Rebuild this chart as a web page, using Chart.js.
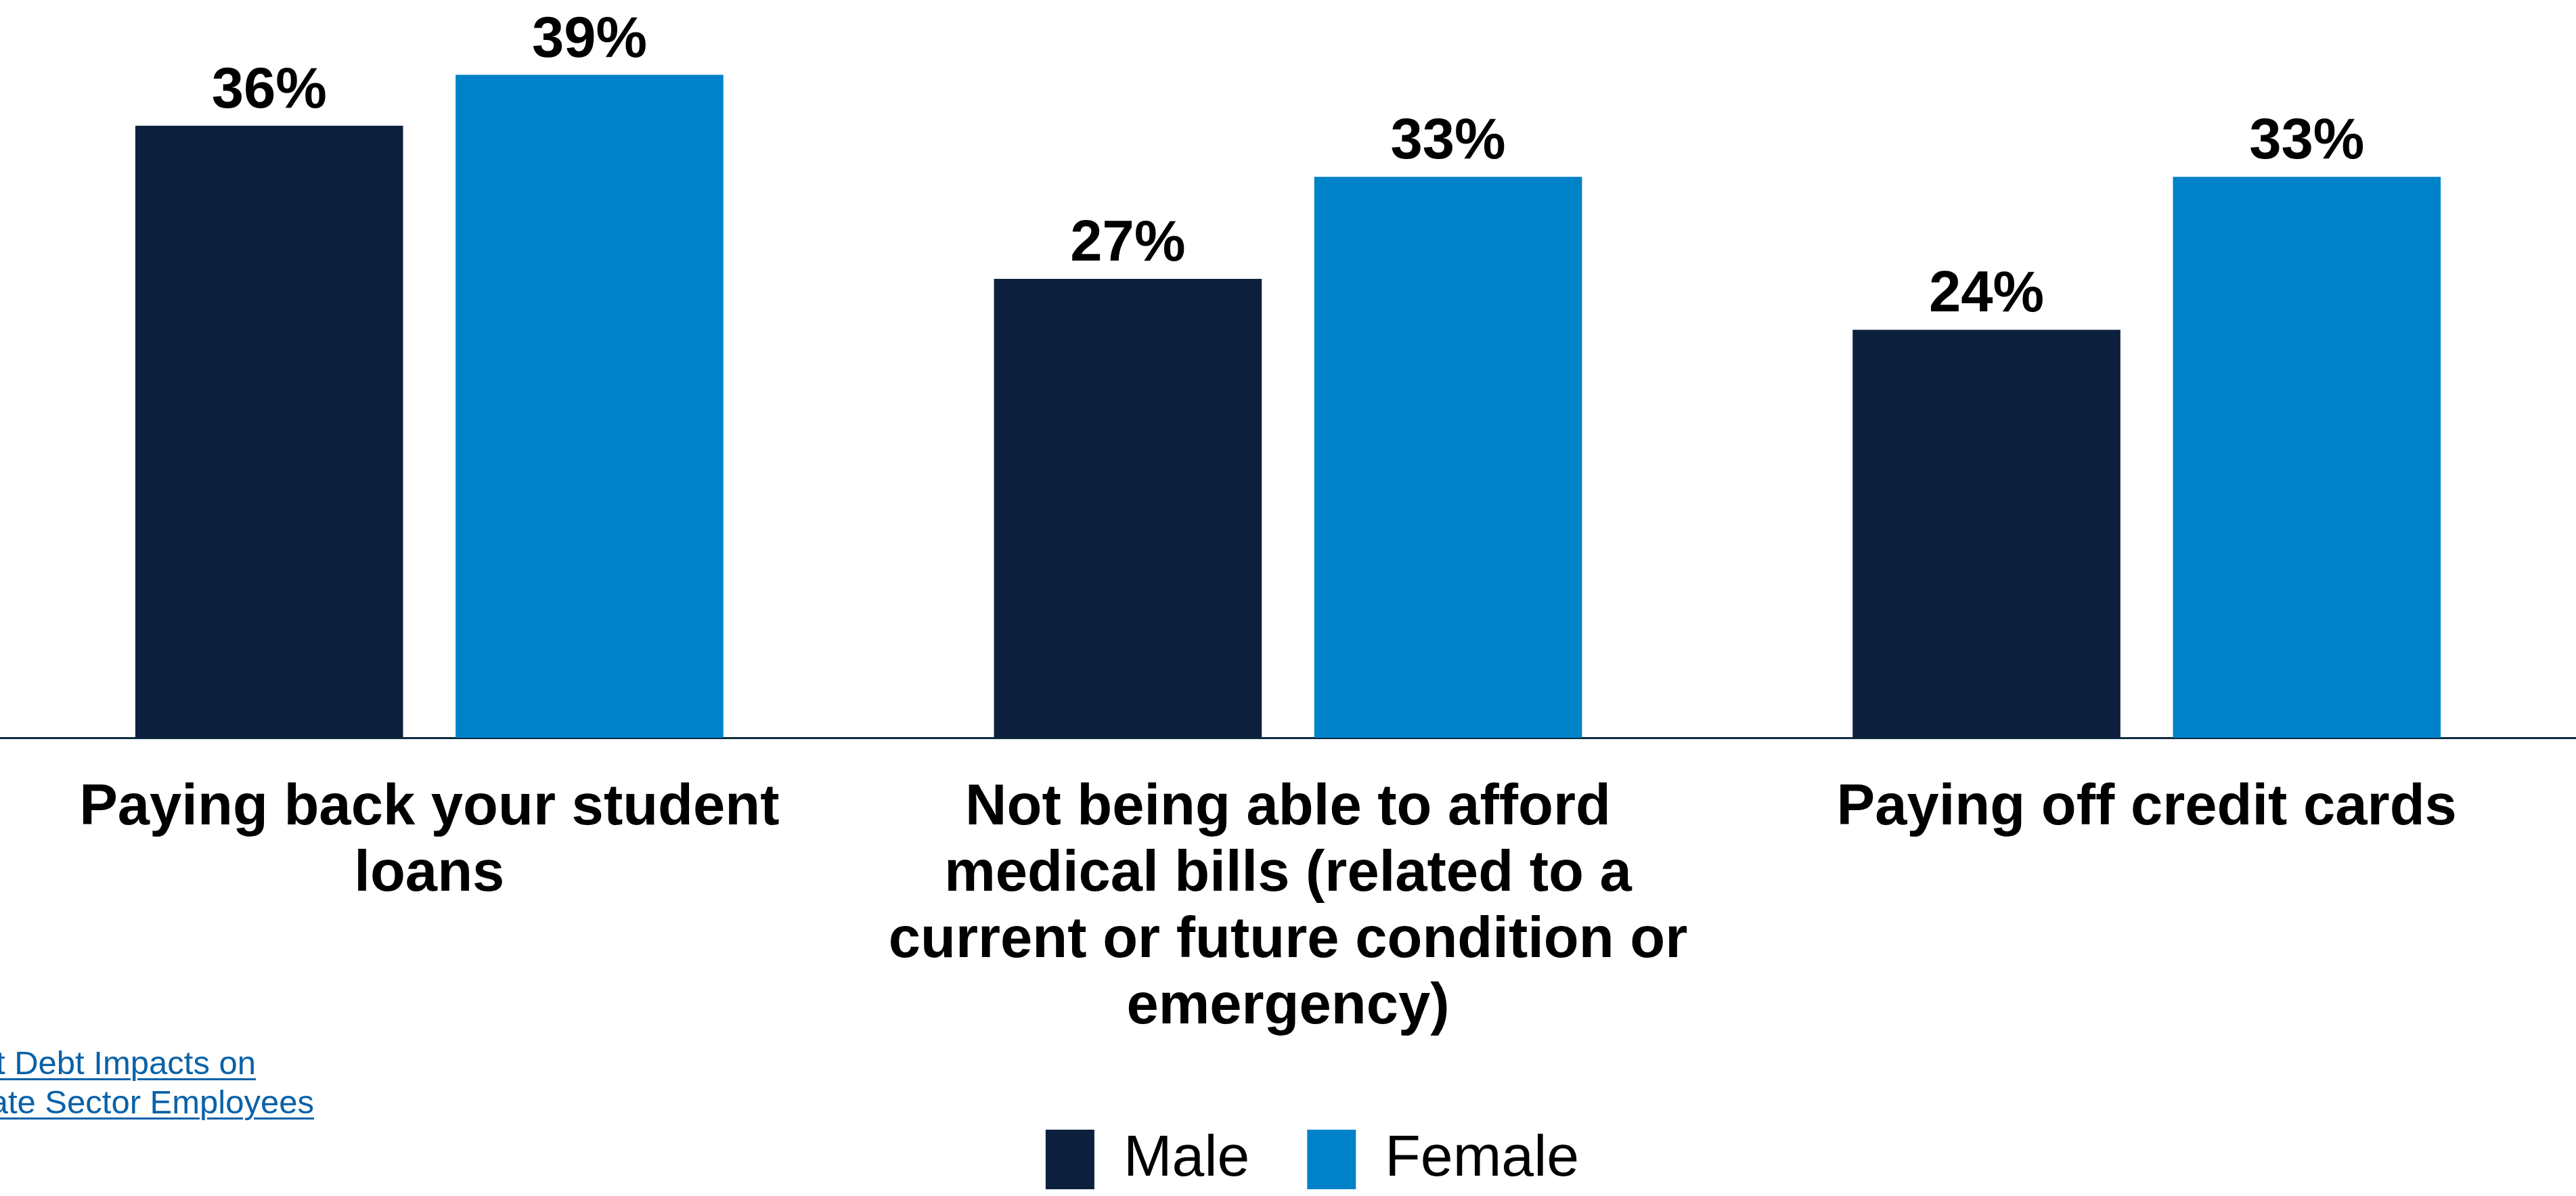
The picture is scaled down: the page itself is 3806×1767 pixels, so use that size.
<!DOCTYPE html>
<html>
<head>
<meta charset="utf-8">
<title>Financial worries by gender</title>
<script src="https://cdn.jsdelivr.net/npm/chart.js@4/dist/chart.umd.min.js"></script>
<style>
  html, body { margin: 0; padding: 0; background: #fff; overflow: hidden; }
  #wrap { position: relative; width: 3806px; height: 1767px; }
  #chart { position: absolute; left: 0; top: 0; }
  .source-link {
    position: absolute;
    width: 700px;
    text-align: right;
    white-space: nowrap;
    font: 49px "Liberation Sans", Arial, sans-serif;
    line-height: 58px;
    color: #0A62A9;
    text-decoration: underline;
    text-underline-offset: 6px;
    text-decoration-thickness: 3px;
  }
</style>
</head>
<body>
<div id="wrap">
  <canvas id="chart" width="3806" height="1767"></canvas>
  <div class="source-link" style="left:-322px;top:1541px">Student Debt Impacts on</div>
  <div class="source-link" style="left:-236px;top:1599px">Private Sector Employees</div>
</div>
<script>
/* Bar chart: share of respondents worried about each item, by gender */
const categories = [
  ['Paying back your student', 'loans'],
  ['Not being able to afford', 'medical bills (related to a', 'current or future condition or', 'emergency)'],
  ['Paying off credit cards']
];
const seriesNames = ['Male', 'Female'];
const maleValues = [36, 27, 24];
const femaleValues = [39, 33, 33];

const COLORS = { male: '#0C203D', female: '#0082C8', axis: '#0B2B40' };
const FONT = '"Liberation Sans", Arial, sans-serif';

Chart.defaults.font.family = FONT;
Chart.defaults.color = '#000';

// percentage label above each bar
const valueLabels = {
  id: 'valueLabels',
  afterDatasetsDraw(chart) {
    const ctx = chart.ctx;
    ctx.save();
    ctx.font = `bold 85px ${FONT}`;
    ctx.fillStyle = '#000';
    ctx.textAlign = 'center';
    ctx.textBaseline = 'alphabetic';
    chart.data.datasets.forEach((ds, i) => {
      chart.getDatasetMeta(i).data.forEach((bar, j) => {
        ctx.fillText(ds.data[j] + '%', bar.x, bar.y - 27);
      });
    });
    ctx.restore();
  }
};

// legend sits a little right of centre
const legendNudge = {
  id: 'legendNudge',
  afterLayout(chart) {
    chart.legend.left += 36;
    chart.legend.right += 36;
  }
};

new Chart(document.getElementById('chart'), {
  type: 'bar',
  data: {
    labels: categories,
    datasets: [
      { label: seriesNames[0], data: maleValues, backgroundColor: COLORS.male, borderWidth: 0 },
      { label: seriesNames[1], data: femaleValues, backgroundColor: COLORS.female, borderWidth: 0 }
    ]
  },
  options: {
    responsive: false,
    animation: false,
    devicePixelRatio: 1,
    layout: { padding: 0 },
    datasets: {
      bar: { categoryPercentage: 0.746, barPercentage: 0.836 }
    },
    plugins: {
      tooltip: { enabled: false },
      legend: {
        position: 'bottom',
        labels: {
          boxWidth: 72,
          boxHeight: 88,
          padding: 85,
          color: '#000',
          font: { size: 86 }
        }
      }
    },
    scales: {
      x: {
        grid: { display: false, drawTicks: false },
        border: { display: true, color: COLORS.axis, width: 3 },
        ticks: {
          color: '#000',
          padding: 56,
          maxRotation: 0,
          autoSkip: false,
          font: { size: 85, weight: 'bold', lineHeight: 1.15 }
        },
        afterFit(scale) { scale.height = 494; }
      },
      y: {
        display: false,
        min: 0,
        max: 43.4
      }
    }
  },
  plugins: [valueLabels, legendNudge]
});
</script>
</body>
</html>
